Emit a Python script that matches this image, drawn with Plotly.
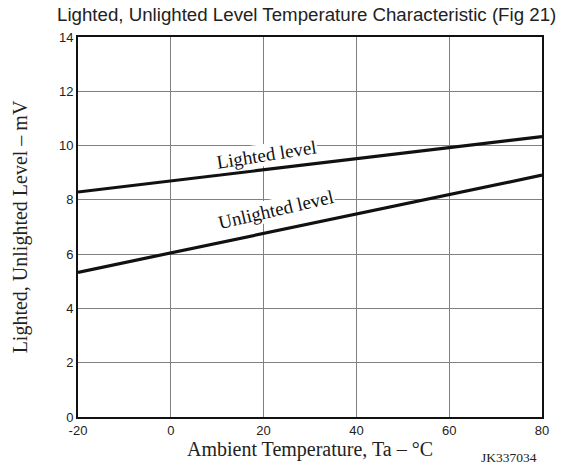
import plotly.graph_objects as go

temps = [-20, 0, 20, 40, 60, 80]
lighted = [8.29, 8.70, 9.10, 9.51, 9.93, 10.33]
unlighted = [5.33, 6.05, 6.76, 7.48, 8.20, 8.91]
x_ticks = [-20, 0, 20, 40, 60, 80]
y_ticks = [0, 2, 4, 6, 8, 10, 12, 14]

fig = go.Figure()
fig.add_trace(go.Scatter(x=temps, y=lighted, mode="lines",
                         line=dict(color="#111111", width=3.2), showlegend=False))
fig.add_trace(go.Scatter(x=temps, y=unlighted, mode="lines",
                         line=dict(color="#111111", width=3.2), showlegend=False))

serif = "Liberation Serif, Times New Roman, serif"
sans = "Liberation Sans, Arial, sans-serif"

fig.add_annotation(x=20.7, y=9.68, text="Lighted level", showarrow=False,
                   textangle=-9, font=dict(family=serif, size=19, color="#111"),
                   bgcolor="white", borderpad=0)
fig.add_annotation(x=22.7, y=7.64, text="Unlighted level", showarrow=False,
                   textangle=-13, font=dict(family=serif, size=19, color="#111"),
                   bgcolor="white", borderpad=0)

fig.add_annotation(x=0.4935, xref="paper", y=1.0, yref="paper", yshift=23,
                   text="Lighted, Unlighted Level Temperature Characteristic (Fig 21)",
                   showarrow=False, xanchor="center", yanchor="middle",
                   font=dict(family=sans, size=18.7, color="#222"))
fig.add_annotation(x=80, xref="x", y=0, yref="y", yshift=-40, xshift=-33,
                   text="JK337034", showarrow=False, xanchor="center",
                   font=dict(family=serif, size=13.5, color="#222"))

fig.update_xaxes(range=[-20, 80], tickvals=x_ticks, ticktext=[str(v) for v in x_ticks],
                 showgrid=True, gridcolor="#808080", gridwidth=1,
                 showline=True, linecolor="#111", linewidth=2, mirror=True,
                 zeroline=False, ticks="",
                 tickfont=dict(family=sans, size=13, color="#222"),
                 title=dict(text="Ambient Temperature, Ta – °C", standoff=2,
                            font=dict(family=serif, size=20, color="#222")))
fig.update_yaxes(range=[0, 14], tickvals=y_ticks, ticktext=[str(v) for v in y_ticks],
                 showgrid=True, gridcolor="#808080", gridwidth=1,
                 showline=True, linecolor="#111", linewidth=2, mirror=True,
                 zeroline=False, ticks="",
                 tickfont=dict(family=sans, size=13, color="#222"),
                 title=dict(text="Lighted, Unlighted Level – mV", standoff=26,
                            font=dict(family=serif, size=20, color="#222")))

fig.update_layout(width=565, height=466, margin=dict(l=78, r=23, t=37, b=46),
                  plot_bgcolor="white", paper_bgcolor="white")

fig.write_html("out.html")
